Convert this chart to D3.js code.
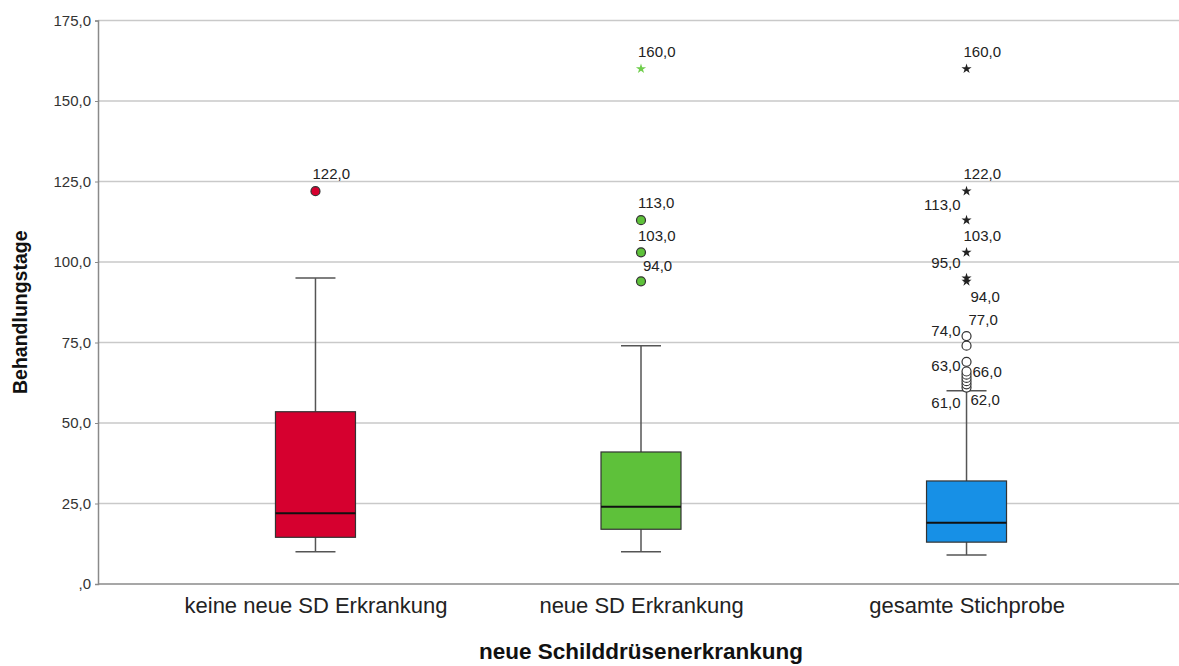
<!DOCTYPE html>
<html>
<head>
<meta charset="utf-8">
<script src="https://cdn.jsdelivr.net/npm/d3@7"></script>
<style>
  html, body { margin: 0; padding: 0; background: #fff; }
  svg { display: block; font-family: "Liberation Sans", Arial, sans-serif; }
</style>
</head>
<body>
<svg id="chart" width="1179" height="666"></svg>
<script>
// Behandlungstage nach neuer Schilddrüsenerkrankung (Boxplot)
const categories = ["keine neue SD Erkrankung", "neue SD Erkrankung", "gesamte Stichprobe"];
const whiskerLow  = [10, 10, 9];
const quartile1   = [14.5, 17, 13];
const medians     = [22, 24, 19];
const quartile3   = [53.5, 41, 32];
const whiskerHigh = [95, 74, 60];
// milde Ausreißer (Kreise) und Extremwerte (Sterne)
const outliers = [[122], [94, 103, 113], [61, 62, 63, 64, 65, 66, 69, 74, 77]];
const extremes = [[], [160], [94, 95, 103, 113, 122, 160]];
// beschriftete Werte je Gruppe
const labelled = [[122], [160, 113, 103, 94], [160, 122, 113, 103, 95, 94, 77, 74, 66, 63, 62, 61]];
const yTicks = [0, 25, 50, 75, 100, 125, 150, 175];
const yTickLabels = [",0", "25,0", "50,0", "75,0", "100,0", "125,0", "150,0", "175,0"];
const xTitle = "neue Schilddrüsenerkrankung";
const yTitle = "Behandlungstage";

// Darstellung
const fills = ["#d6002f", "#5ec13a", "#1790e6"];
const outlierFill = ["#d6002f", "#5ec13a", "#ffffff"];
const starFill = ["#222", "#6fce4c", "#222"];
// Lage der Wertbeschriftung relativ zum Punkt
const placement = [
  {122: "ur"},
  {160: "ur", 113: "ur", 103: "ur", 94: "ur2"},
  {160: "ur", 122: "ur", 113: "ul", 103: "ur", 95: "ul", 94: "lr",
   77: "ur2", 74: "ul", 66: "r", 63: "ul", 62: "lr", 61: "ll"}
];
const offsets = {
  ur:  {dx: -3, dy: -17, anchor: "start"},
  ur2: {dx: 2,  dy: -16, anchor: "start"},
  ul:  {dx: -6, dy: -15, anchor: "end"},
  lr:  {dx: 4,  dy: 15,  anchor: "start"},
  ll:  {dx: -6, dy: 15,  anchor: "end"},
  r:   {dx: 6,  dy: 0,   anchor: "start"}
};

const svg = d3.select("#chart");
const plotLeft = 98, plotRight = 1179, plotTop = 20.5, plotBottom = 584;

const y = d3.scaleLinear().domain([0, 175]).range([plotBottom, plotTop]);
const x = d3.scalePoint().domain(categories).range([99, 1183]).padding(0.665);
const boxW = 80, capW = 40;
const fmt = v => (v === 0 ? ",0" : d3.format(".1f")(v).replace(".", ","));

// Gitterlinien
svg.append("g")
  .selectAll("line").data(yTicks.filter(t => t > 0)).join("line")
  .attr("x1", plotLeft).attr("x2", plotRight)
  .attr("y1", d => y(d)).attr("y2", d => y(d))
  .attr("stroke", "#c9c9c9").attr("stroke-width", 1.5);

// y-Achse
const yAxis = d3.axisLeft(y).tickValues(yTicks)
  .tickFormat((d, i) => yTickLabels[i]).tickSize(3).tickPadding(4);
const gy = svg.append("g").attr("transform", `translate(${plotLeft},0)`).call(yAxis);
gy.select(".domain").attr("stroke", "#8a8a8a").attr("stroke-width", 1.5);
gy.selectAll(".tick line").attr("stroke", "#8a8a8a");
gy.selectAll(".tick text").attr("font-size", 15).attr("fill", "#333")
  .attr("font-family", "Liberation Sans, Arial, sans-serif");

// x-Achse
const xAxis = d3.axisBottom(x).tickSize(0).tickPadding(13);
const gx = svg.append("g").attr("transform", `translate(0,${plotBottom})`).call(xAxis);
gx.select(".domain").attr("d", `M${plotLeft},0H${plotRight}`)
  .attr("stroke", "#8a8a8a").attr("stroke-width", 1.5);
gx.selectAll(".tick text").attr("font-size", 22).attr("fill", "#222")
  .attr("font-family", "Liberation Sans, Arial, sans-serif");

// Boxen
const groups = categories.map((c, i) => ({
  c, i, lo: whiskerLow[i], q1: quartile1[i], med: medians[i], q3: quartile3[i], hi: whiskerHigh[i]
}));
const gb = svg.append("g").selectAll("g").data(groups).join("g")
  .attr("transform", d => `translate(${x(d.c)},0)`);

gb.append("line").attr("x1", 0).attr("x2", 0)
  .attr("y1", d => y(d.hi)).attr("y2", d => y(d.q3))
  .attr("stroke", "#555").attr("stroke-width", 1.5);
gb.append("line").attr("x1", 0).attr("x2", 0)
  .attr("y1", d => y(d.q1)).attr("y2", d => y(d.lo))
  .attr("stroke", "#555").attr("stroke-width", 1.5);
gb.append("line").attr("x1", -capW / 2).attr("x2", capW / 2)
  .attr("y1", d => y(d.hi)).attr("y2", d => y(d.hi))
  .attr("stroke", "#555").attr("stroke-width", 1.5);
gb.append("line").attr("x1", -capW / 2).attr("x2", capW / 2)
  .attr("y1", d => y(d.lo)).attr("y2", d => y(d.lo))
  .attr("stroke", "#555").attr("stroke-width", 1.5);
gb.append("rect")
  .attr("x", -boxW / 2).attr("width", boxW)
  .attr("y", d => y(d.q3)).attr("height", d => y(d.q1) - y(d.q3))
  .attr("fill", d => fills[d.i]).attr("stroke", "#333").attr("stroke-width", 1.2);
gb.append("line").attr("x1", -boxW / 2).attr("x2", boxW / 2)
  .attr("y1", d => y(d.med)).attr("y2", d => y(d.med))
  .attr("stroke", "#111").attr("stroke-width", 2);

// Ausreißer
gb.each(function (d) {
  const g = d3.select(this);
  g.selectAll("circle").data(outliers[d.i]).join("circle")
    .attr("cx", 0).attr("cy", v => y(v)).attr("r", 4.5)
    .attr("fill", outlierFill[d.i]).attr("stroke", "#333").attr("stroke-width", 1.2);
  g.selectAll("path.star").data(extremes[d.i]).join("path")
    .attr("class", "star")
    .attr("d", d3.symbol().type(d3.symbolStar).size(32))
    .attr("transform", v => `translate(0,${y(v)})`)
    .attr("fill", starFill[d.i]);
  g.selectAll("text.val").data(labelled[d.i]).join("text")
    .attr("class", "val")
    .attr("x", v => offsets[placement[d.i][v]].dx)
    .attr("y", v => y(v) + offsets[placement[d.i][v]].dy)
    .attr("dy", "0.35em")
    .attr("text-anchor", v => offsets[placement[d.i][v]].anchor)
    .attr("font-size", 15).attr("fill", "#222")
    .text(fmt);
});

// Achsentitel
svg.append("text").attr("x", 641).attr("y", 659)
  .attr("text-anchor", "middle").attr("font-size", 22.5).attr("font-weight", "bold")
  .attr("fill", "#111").text(xTitle);
svg.append("text").attr("transform", `translate(27,${(plotTop + plotBottom) / 2 + 10}) rotate(-90)`)
  .attr("text-anchor", "middle").attr("font-size", 19.5).attr("font-weight", "bold")
  .attr("fill", "#111").text(yTitle);
</script>
</body>
</html>
